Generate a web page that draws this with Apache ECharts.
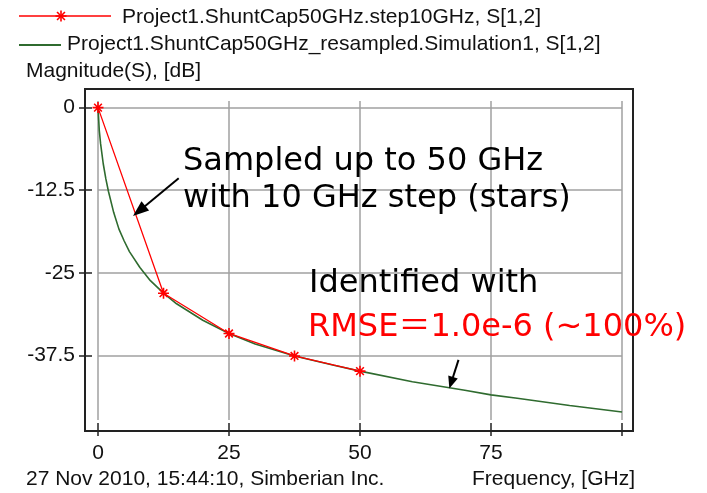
<!DOCTYPE html>
<html><head><meta charset="utf-8">
<script src="https://cdn.jsdelivr.net/npm/echarts@6/dist/echarts.min.js"></script>
<style>html,body{margin:0;padding:0;background:#fff}#c{width:707px;height:493px}</style>
</head><body><div id="c"></div>
<script>
// ---- data ----
const sampledFreq = [0, 12.5, 25, 37.5, 50];
const sampledMag  = [0, -28.1, -34.2, -37.6, -39.9];

const modelFreq = [0, 0.25, 0.5, 1, 1.5, 2, 3, 4, 5, 6, 8, 10, 12.5, 15, 20, 25, 30, 37.5, 45, 50, 60, 70, 75, 80, 90, 100];
const modelMag  = [0, -3.5, -5.5, -8.5, -10.8, -12.7, -15.9, -18.4, -20.2, -21.8, -24.2, -26.2, -28.1, -29.7, -32.2, -34.2, -35.8, -37.6, -39.0, -39.9, -41.5, -42.8, -43.5, -44.0, -45.1, -46.1];

const yTicks = [0, -12.5, -25, -37.5];
const xHiddenLabels = [100];

const seriesNames = ['Project1.ShuntCap50GHz.step10GHz, S[1,2]', 'Project1.ShuntCap50GHz_resampled.Simulation1, S[1,2]'];
const yTitle = 'Magnitude(S), [dB]';
const xTitle = 'Frequency, [GHz]';
const footer = '27 Nov 2010, 15:44:10, Simberian Inc.';
const note1 = ['Sampled up to 50 GHz', 'with 10 GHz step (stars)'];
const note2 = ['Identified with', 'RMSE\uFF1D1.0e-6 (~100%)'];
// arrows in data units: [start, end]
const arrow1 = [[15.4, -10.7], [7.85, -15.65]];
const arrow2 = [[68.8, -38.2], [67.4, -41.65]];

// ---- styles ----
const RED = '#ff0000', GREEN = '#2f6b2f';
const STAR = 'path://M5,0L5,10M0,5L10,5M1.5,1.5L8.5,8.5M1.5,8.5L8.5,1.5';
const smallFont = "'Liberation Sans', Arial, sans-serif";
const bigFont = "'DejaVu Sans', 'Noto Sans CJK JP', sans-serif";

function star(cx, cy, r) {
  const d = r * 0.72;
  const segs = [[0,-r,0,r],[-r,0,r,0],[-d,-d,d,d],[-d,d,d,-d]];
  return segs.map(s => ({type:'line', shape:{x1:cx+s[0],y1:cy+s[1],x2:cx+s[2],y2:cy+s[3]}, style:{stroke:RED, lineWidth:1.6}, z:20}));
}

const chart = echarts.init(document.getElementById('c'));
chart.setOption({
  animation: false,
  backgroundColor: '#fff',
  grid: {left: 98, right: 85, top: 101, bottom: 73},
  xAxis: {
    type: 'value', min: 0, max: 100, interval: 25, offset: 3,
    axisLine: {show: false, onZero: false},
    axisTick: {show: true, length: 13, lineStyle: {color: '#222', width: 1.5}},
    axisLabel: {margin: 20, fontFamily: smallFont, fontSize: 21, color: '#111',
      formatter: v => xHiddenLabels.includes(v) ? '' : String(v)},
    splitLine: {show: true, lineStyle: {color: '#a0a0a0', width: 1.5}}
  },
  yAxis: {
    type: 'value', min: -47.3, max: 1, offset: 6,
    axisLine: {show: false, onZero: false},
    axisTick: {show: true, length: 13, customValues: yTicks, lineStyle: {color: '#222', width: 1.5}},
    axisLabel: {margin: 17, fontFamily: smallFont, fontSize: 21, color: '#111', customValues: yTicks,
      formatter: v => String(v)},
    splitLine: {show: true, lineStyle: {color: '#a0a0a0', width: 1.5}}
  },
  series: [
    {
      name: seriesNames[1], type: 'line', showSymbol: false, z: 3,
      data: modelFreq.map((f, i) => [f, modelMag[i]]),
      lineStyle: {color: GREEN, width: 1.6}, itemStyle: {color: GREEN},
      markLine: {
        silent: true, animation: false,
        symbol: ['none', 'triangle'], symbolSize: [11, 15],
        label: {show: false},
        lineStyle: {color: '#000', width: 2, type: 'solid'},
        data: [
          [{coord: arrow1[0]}, {coord: arrow1[1], symbolSize: [12, 16]}],
          [{coord: arrow2[0]}, {coord: arrow2[1], symbolSize: [10, 12]}]
        ]
      }
    },
    {
      name: seriesNames[0], type: 'line', z: 4,
      data: sampledFreq.map((f, i) => [f, sampledMag[i]]),
      symbol: STAR, symbolSize: 11,
      lineStyle: {color: RED, width: 1.3},
      itemStyle: {color: RED, borderColor: RED, borderWidth: 1.6}
    }
  ],
  graphic: [
    // plot frame
    {type: 'rect', shape: {x: 85, y: 89, width: 548, height: 342}, style: {fill: null, stroke: '#222', lineWidth: 2}, z: 10, silent: true},
    // legend
    {type: 'line', shape: {x1: 19, y1: 16, x2: 111, y2: 16}, style: {stroke: RED, lineWidth: 1.5}, z: 20},
    ...star(61, 16, 5.5),
    {type: 'text', left: 122, top: 7, style: {text: seriesNames[0], font: '21px ' + smallFont, fill: '#111'}, z: 20},
    {type: 'line', shape: {x1: 19, y1: 45, x2: 61, y2: 45}, style: {stroke: GREEN, lineWidth: 2}, z: 20},
    {type: 'text', left: 67, top: 34, style: {text: seriesNames[1], font: '21px ' + smallFont, fill: '#111'}, z: 20},
    {type: 'text', left: 26, top: 61, style: {text: yTitle, font: '21px ' + smallFont, fill: '#111'}, z: 20},
    // footer
    {type: 'text', left: 26, top: 469, style: {text: footer, font: '21px ' + smallFont, fill: '#111'}, z: 20},
    {type: 'text', left: 472, top: 469, style: {text: xTitle, font: '21px ' + smallFont, fill: '#111'}, z: 20},
    // annotations
    {type: 'text', left: 183, top: 146, style: {text: note1[0], font: '32px ' + bigFont, fill: '#000'}, z: 20},
    {type: 'text', left: 183, top: 183, style: {text: note1[1], font: '32px ' + bigFont, fill: '#000'}, z: 20},
    {type: 'text', left: 309, top: 268, style: {text: note2[0], font: '32px ' + bigFont, fill: '#000'}, z: 20},
    {type: 'text', left: 308, top: 312, style: {text: note2[1], font: '32px ' + bigFont, fill: RED}, z: 20}
  ]
});
</script></body></html>
